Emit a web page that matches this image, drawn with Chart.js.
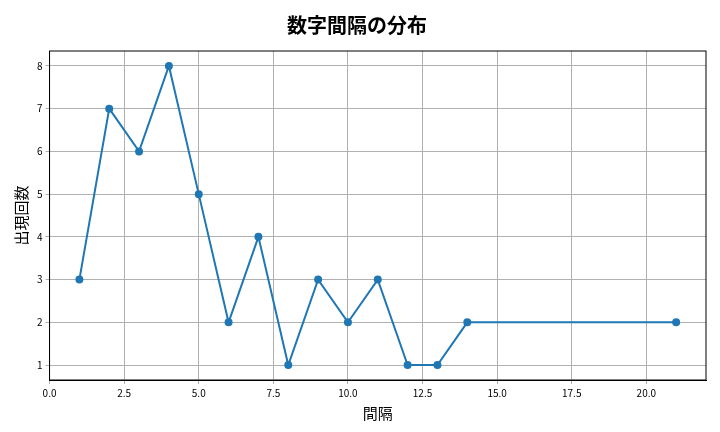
<!DOCTYPE html>
<html><head><meta charset="utf-8">
<script src="https://cdn.jsdelivr.net/npm/chart.js@4"></script>
<style>body{margin:0;background:#fff}#wrap{width:720px;height:432px}</style>
</head><body><div id="wrap"><canvas id="c"></canvas></div>
<script>
// interval -> count
const gaps = [1, 2, 3, 4, 5, 6, 7, 8, 9, 10, 11, 12, 13, 14, 21];
const counts = [3, 7, 6, 8, 5, 2, 4, 1, 3, 2, 3, 1, 1, 2, 2];
const xTicks = [0, 2.5, 5, 7.5, 10, 12.5, 15, 17.5, 20];
const yTicks = [1, 2, 3, 4, 5, 6, 7, 8];

const font = "'Noto Sans CJK JP', 'Noto Sans', sans-serif";
Chart.defaults.font.family = font;
Chart.defaults.color = "#000";

// full box around the plot area
const frame = {
    id: "frame",
    afterDatasetsDraw(chart) {
        const a = chart.chartArea, ctx = chart.ctx;
        ctx.save();
        ctx.strokeStyle = "#000";
        ctx.lineWidth = 1;
        ctx.strokeRect(a.left, a.top, a.right - a.left, a.bottom - a.top);
        ctx.restore();
    }
};

new Chart(document.getElementById("c"), {
    type: "line",
    data: {
        datasets: [{
            data: gaps.map((g, i) => ({ x: g, y: counts[i] })),
            borderColor: "#1f77b4",
            backgroundColor: "#1f77b4",
            borderWidth: 2,
            pointRadius: 3,
            tension: 0
        }]
    },
    options: {
        responsive: true,
        maintainAspectRatio: false,
        animation: false,
        layout: { padding: { left: 8, right: 14, top: 9, bottom: 6 } },
        plugins: {
            legend: { display: false },
            tooltip: { enabled: false },
            title: { display: true, text: "数字間隔の分布", font: { size: 20, weight: "bold" }, padding: { top: 4, bottom: 14 } }
        },
        scales: {
            x: {
                type: "linear", min: 0, max: 22,
                afterBuildTicks: s => { s.ticks = xTicks.map(v => ({ value: v })); },
                ticks: { callback: v => v.toFixed(1), font: { size: 10 }, maxRotation: 0 },
                grid: { color: "#b0b0b0", tickLength: 4 },
                border: { color: "#000" },
                title: { display: true, text: "間隔", font: { size: 15 }, padding: { top: 2 } }
            },
            y: {
                type: "linear", min: 0.65, max: 8.35,
                afterBuildTicks: s => { s.ticks = yTicks.map(v => ({ value: v })); },
                ticks: { font: { size: 10 } },
                grid: { color: "#b0b0b0", tickLength: 4 },
                border: { color: "#000" },
                title: { display: true, text: "出現回数", font: { size: 15 } }
            }
        }
    },
    plugins: [frame]
});
</script></body></html>
